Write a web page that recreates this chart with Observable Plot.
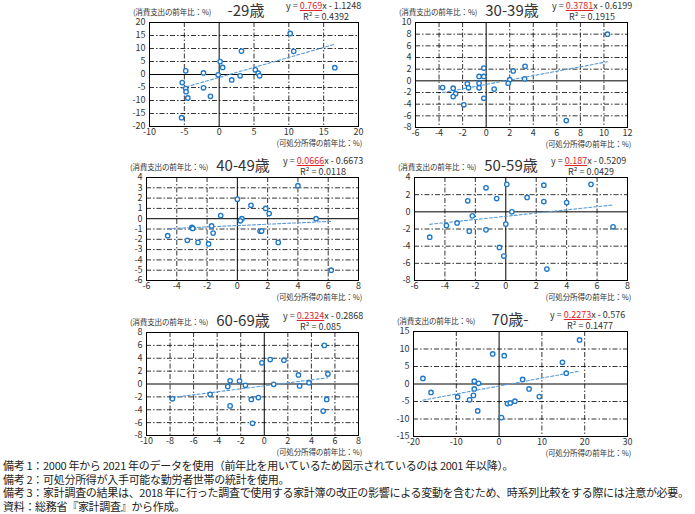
<!DOCTYPE html>
<html><head><meta charset="utf-8">
<script src="https://cdn.jsdelivr.net/npm/d3@7"></script>
<script src="https://cdn.jsdelivr.net/npm/@observablehq/plot@0.6"></script>
<style>
body{margin:0;background:#fff;}
#root{position:relative;width:695px;height:514px;overflow:hidden;background:#fff;font-family:"Noto Sans CJK JP",sans-serif;color:#333;}
.abs{position:absolute;white-space:nowrap;line-height:1;}
.num{font-family:"Liberation Sans Narrow","Noto Sans CJK JP",sans-serif;}
.title{font-size:15px;color:#333;transform:translateX(-50%);}
.eq{font-size:9px;color:#333;height:9px;}
.eq .c{display:inline-block;line-height:1;color:#e0262b;text-decoration:underline;text-decoration-color:#e0262b;text-decoration-thickness:1.3px;}
.lab{font-size:7.6px;color:#333;letter-spacing:-0.2px;}
.note{font-size:11px;left:3px;letter-spacing:-0.3px;color:#222;}
</style></head>
<body><div id="root"></div>
<script>
// ---- data ----
const groups = ["-29歳","30-39歳","40-49歳","50-59歳","60-69歳","70歳-"];
const slopes = ["0.769","0.3781","0.0666","0.187","0.2324","0.2273"];
const intercepts = ["1.1248","0.6199","0.6673","0.5209","0.2868","0.576"];
const r2 = ["0.4392","0.1915","0.0118","0.0429","0.085","0.1477"];

const xTicks29 = [-10,-5,0,5,10,15,20];
const yTicks29 = [-20,-15,-10,-5,0,5,10,15,20];
const xTicks30 = [-6,-4,-2,0,2,4,6,8,10,12];
const yTicks30 = [-8,-6,-4,-2,0,2,4,6,8,10];
const xTicks40 = [-6,-4,-2,0,2,4,6,8];
const yTicks40 = [-6,-5,-4,-3,-2,-1,0,1,2,3,4];
const xTicks50 = [-6,-4,-2,0,2,4,6,8];
const yTicks50 = [-8,-6,-4,-2,0,2,4];
const xTicks60 = [-10,-8,-6,-4,-2,0,2,4,6,8];
const yTicks60 = [-8,-6,-4,-2,0,2,4,6,8];
const xTicks70 = [-20,-10,0,10,20,30];
const yTicks70 = [-15,-10,-5,0,5,10,15];

const x29 = [10.2,10.7,16.6,3.2,0.14,0.5,-0.15,1.8,3.0,5.2,5.6,5.8,-4.8,-2.25,-2.25,-5.3,-4.8,-4.75,-4.5,-1.25,-5.4];
const y29 = [15.8,8.9,2.6,9.0,5.0,2.7,-0.1,-2.1,-0.5,1.8,0.5,-0.5,1.4,0.6,-5.1,-3.1,-5.4,-6.6,-9.0,-8.4,-16.6];
const x30 = [10.3,6.8,3.3,3.26,2.3,2.0,1.87,0.68,-0.2,-0.2,-0.6,-0.6,-0.6,-0.2,-1.6,-1.5,-1.9,-3.7,-2.8,-2.6,-2.8];
const y30 = [8.0,-6.8,2.5,0.34,1.7,0.2,-0.4,-1.4,2.2,0.75,0.75,-0.4,-1.2,-3.0,-0.5,-1.2,-4.1,-1.15,-1.26,-2.2,-2.7];
const x40 = [4.0,0.0,0.9,1.87,2.1,5.2,0.3,0.2,-1.1,-3.0,-2.95,-1.7,-1.6,1.5,1.6,-4.6,-3.3,-2.6,-1.9,2.7,6.2];
const y40 = [3.2,1.9,1.3,1.0,0.5,0.0,0.0,-0.2,0.3,-0.85,-0.95,-0.7,-1.4,-1.2,-1.2,-1.65,-2.1,-2.3,-2.45,-2.3,-5.0];
const x50 = [0.07,-1.3,2.5,5.6,-0.6,1.4,-2.5,2.5,4.0,0.4,-2.2,-3.9,-3.2,0.0,-1.3,-2.4,-5.0,7.05,-0.42,-0.13,2.7];
const y50 = [3.2,2.8,3.1,3.2,1.55,1.67,1.28,1.2,1.08,0.0,-0.47,-1.6,-1.3,-1.43,-2.1,-2.25,-2.95,-1.74,-4.15,-5.15,-6.67];
const x60 = [5.1,0.5,1.67,-0.2,5.4,2.9,-2.9,-2.1,-1.6,-3.1,0.8,3.0,3.8,-4.6,-7.8,-1.1,-0.5,5.3,-2.9,5.0,-1.0];
const y60 = [6.0,3.8,3.7,3.3,1.55,1.4,0.5,0.46,-0.2,-0.4,-0.05,-0.3,0.2,-1.6,-2.3,-2.4,-2.1,-2.4,-3.4,-4.2,-6.1];
const x70 = [18.8,14.8,15.7,-1.5,1.2,-17.8,-15.9,-5.8,-4.8,-5.8,-6.0,-6.9,-9.7,-5.0,0.55,5.5,7.0,9.4,1.95,2.6,3.7];
const y70 = [12.6,6.2,3.1,8.6,8.1,1.6,-2.4,0.8,0.2,-1.4,-3.25,-4.5,-3.7,-7.7,-9.6,1.3,-1.4,-3.6,-5.6,-5.4,-4.9];

const xsAll = [x29,x30,x40,x50,x60,x70];
const ysAll = [y29,y30,y40,y50,y60,y70];
const xTicksAll = [xTicks29,xTicks30,xTicks40,xTicks50,xTicks60,xTicks70];
const yTicksAll = [yTicks29,yTicks30,yTicks40,yTicks50,yTicks60,yTicks70];

const notes = [
  "備考 1：2000 年から 2021 年のデータを使用（前年比を用いているため図示されているのは 2001 年以降）。",
  "備考 2：可処分所得が入手可能な勤労者世帯の統計を使用。",
  "備考 3：家計調査の結果は、2018 年に行った調査で使用する家計簿の改正の影響による変動を含むため、時系列比較をする際には注意が必要。",
  "資料：総務省『家計調査』から作成。"
];

// ---- layout (plot frame: left, top, width, height) ----
const frames = [[149,22,209,104],[415,22,212,105],[146,177,212,103],[414,177,213,103],[146,332,212,103],[413,331,214,105]];

const root = document.getElementById("root");
function addDiv(cls, html, left, top){
  const d = document.createElement("div");
  d.className = "abs " + cls; d.innerHTML = html;
  d.style.left = left + "px"; d.style.top = top + "px";
  root.appendChild(d); return d;
}

const ml = 30, mr = 14, mt = 4, mb = 16;
groups.forEach((g, i) => {
  const [fl, ft, fw, fh] = frames[i];
  const xs = xsAll[i], ys = ysAll[i];
  const pts = xs.map((x, j) => ({x, y: ys[j]}));
  const m = +slopes[i], b = -intercepts[i];
  const trend = d3.extent(xs).map(x => ({x, y: m * x + b}));
  const xt = xTicksAll[i], yt = yTicksAll[i];
  const grid = {stroke: "#000", strokeOpacity: 1, strokeWidth: 0.8, strokeDasharray: "5,2,1.5,2"};
  const svg = Plot.plot({
    width: fw + ml + mr, height: fh + mt + mb,
    marginLeft: ml, marginRight: mr, marginTop: mt, marginBottom: mb,
    x: {domain: d3.extent(xt)}, y: {domain: d3.extent(yt)},
    style: {fontSize: "9px", fontFamily: '"Liberation Sans Narrow","Noto Sans CJK JP",sans-serif', color: "#333", background: "transparent", overflow: "visible"},
    marks: [
      Plot.ruleX(xt.filter(v => v !== 0), {x: d => d, ...grid}),
      Plot.ruleY(yt.filter(v => v !== 0), {y: d => d, ...grid}),
      Plot.ruleX([0], {stroke: "#000", strokeWidth: 1}),
      Plot.ruleY([0], {stroke: "#000", strokeWidth: 1}),
      Plot.frame({stroke: "#000", strokeWidth: 1}),
      Plot.line(trend, {x: "x", y: "y", stroke: "#5b9bd5", strokeWidth: 1.1, strokeDasharray: "3,2"}),
      Plot.dot(pts, {x: "x", y: "y", r: 2.2, stroke: "#1f78c8", strokeWidth: 1.35, fill: "white"}),
      Plot.axisX(xt, {tickSize: 0, tickPadding: 2, tickFormat: d => String(d), label: null}),
      Plot.axisY(yt, {tickSize: 0, tickPadding: 4, tickFormat: d => String(d), label: null})
    ]
  });
  svg.style.position = "absolute";
  svg.style.left = (fl - ml) + "px";
  svg.style.top = (ft - mt) + "px";
  root.appendChild(svg);

  addDiv("title num", g, fl + 97, ft - 20);
  addDiv("eq num", `y = <span class="c">${slopes[i]}</span>x - ${intercepts[i]}`, fl + 137, ft - 21);
  addDiv("eq num", `R² = ${r2[i]}`, fl + 154, ft - 10.5);
  addDiv("lab", "(消費支出の前年比：%)", fl - 16, ft - 14);
  const xl = addDiv("lab", "(可処分所得の前年比：%)", 0, ft + fh + 13);
  xl.style.left = "auto"; xl.style.right = (695 - (fl + fw + 4)) + "px";
});

notes.forEach((t, k) => addDiv("note", t, 3, 460 + k * 13.5));
</script>
</body></html>
